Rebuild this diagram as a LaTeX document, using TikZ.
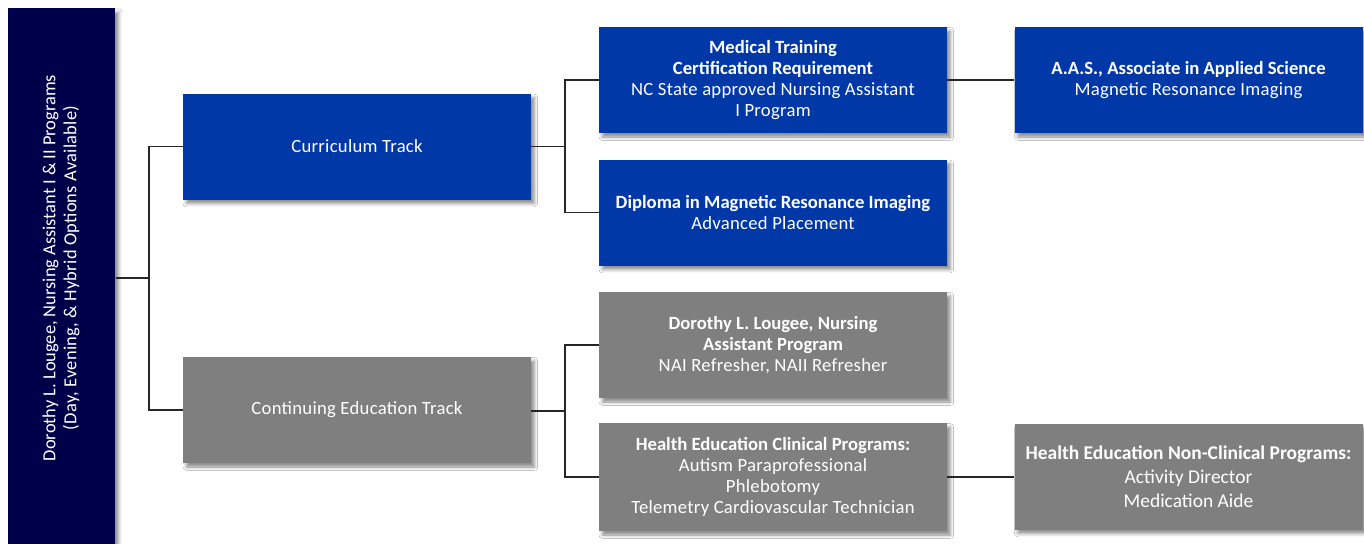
\documentclass[tikz,border=0pt]{standalone}
\usepackage{fontspec}
\setmainfont{Carlito}
\newfontfamily\lt[LetterSpace=1.5]{Carlito}
\usetikzlibrary{shadows.blur,calc}
\definecolor{navy}{HTML}{00004A}
\definecolor{cblue}{HTML}{0038A8}
\definecolor{cgray}{HTML}{7F7F7F}
\definecolor{lineclr}{HTML}{262626}
\tikzset{
  box/.style={minimum width=261pt, minimum height=79.5pt, inner sep=2pt, align=center,
    text=white, font=\fontsize{14}{15.8}\selectfont,
    blur shadow={shadow xshift=2.5pt, shadow yshift=-3pt, shadow blur radius=2.5pt, shadow opacity=45}},
  bluebox/.style={box, fill=cblue},
  graybox/.style={box, fill=cgray},
  conn/.style={draw=lineclr, line width=1.1pt},
}
\begin{document}
\begin{tikzpicture}[x=0.75pt,y=-0.75pt]
\useasboundingbox[fill=white] (0,0) rectangle (1364,543);
% root
\node[fill=navy, minimum width=80.25pt, minimum height=420pt, anchor=north west, inner sep=0pt,
  blur shadow={shadow xshift=2.5pt, shadow yshift=-3pt, shadow blur radius=2.5pt, shadow opacity=45}] (root) at (8,8) {};
\node[rotate=90, text=white, align=center, font=\fontsize{13.8}{15.8}\selectfont] (roottext) at (61,268)
  {Dorothy L. Lougee, Nursing Assistant I \& II Programs\\{\lt (Day, Evening, \& Hybrid Options Available)}};
% level 1
\node[bluebox] (cur) at (357,146.5) {\lt Curriculum Track};
\node[graybox] (cont) at (357,410) {\lt Continuing Education Track};
% level 2
\node[bluebox] (mtc) at (773,80) {\textbf{Medical Training}\\\textbf{Certification Requirement}\\{\lt NC State approved Nursing Assistant}\\{\lt I Program}};
\node[bluebox] (dip) at (773,212.5) {\textbf{Diploma in Magnetic Resonance Imaging}\\{\lt Advanced Placement}};
\node[graybox] (dor) at (773,345) {\textbf{Dorothy L. Lougee, Nursing}\\\textbf{Assistant Program}\\{\lt NAI Refresher, NAII Refresher}};
\node[graybox, minimum height=81pt] (hea) at (773,477) {\textbf{Health Education Clinical Programs:}\\{\lt Autism Paraprofessional}\\{\lt Phlebotomy}\\{\lt Telemetry Cardiovascular Technician}};
% level 3
\node[bluebox] (aas) at (1188.5,80) {\textbf{A.A.S., Associate in Applied Science}\\{\lt Magnetic Resonance Imaging}};
\node[graybox, font=\fontsize{14.6}{18}\selectfont] (non) at (1188.5,476.5) {\textbf{Health Education Non-Clinical Programs:}\\Activity Director\\Medication Aide};
% connectors
\coordinate (j1) at (149,278);
\coordinate (j2) at (565,146.5);
\coordinate (j3) at (565,411);
\draw[conn] (root.east |- j1) -- (j1);
\draw[conn] (j1) |- (cur.west);
\draw[conn] (j1) |- (cont.west);
\draw[conn] (cur.east) -- (j2);
\draw[conn] (j2) |- (mtc.west);
\draw[conn] (j2) |- (dip.west);
\draw[conn] (cont.east |- j3) -- (j3);
\draw[conn] (j3) |- (dor.west);
\draw[conn] (j3) |- (hea.west);
\draw[conn] (mtc.east) -- (aas.west);
\draw[conn] (hea.east) -- (non.west |- hea.east);
\end{tikzpicture}
\end{document}
